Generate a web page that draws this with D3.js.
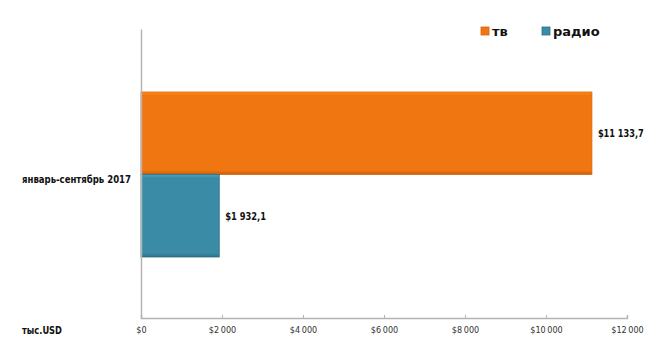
<!DOCTYPE html>
<html>
<head>
<meta charset="utf-8">
<script src="https://cdn.jsdelivr.net/npm/d3@7"></script>
<style>
  body { margin: 0; background: #fff; }
  svg { display: block; }
</style>
</head>
<body>
<div id="chart"></div>
<script>
const CATEGORY = 'январь-сентябрь 2017'
const SERIES = ['тв', 'радио']
const VALUES = [11133.7, 1932.1]
const VALUE_LABELS = ['$11 133,7', '$1 932,1']
const TICKS = [0, 2000, 4000, 6000, 8000, 10000, 12000]
const COLORS = ['#f07612', '#3a8ca6']
const EDGES = ['#d8650c', '#2b6f86']
const UNIT = 'тыс.USD'

const W = 650
const H = 361
const FONT = 'DejaVu Sans Condensed, Liberation Sans Narrow, sans-serif'
const svg = d3.select('#chart').append('svg')
  .attr('width', W)
  .attr('height', H)

const defs = svg.append('defs')
COLORS.forEach((c, i) => {
  const g = defs.append('linearGradient')
    .attr('id', 'grad' + i)
    .attr('x1', 0).attr('y1', 0).attr('x2', 0).attr('y2', 1)
  g.append('stop').attr('offset', '0%').attr('stop-color', d3.color(c).brighter(0.5))
  g.append('stop').attr('offset', '4%').attr('stop-color', c)
  g.append('stop').attr('offset', '95%').attr('stop-color', c)
  g.append('stop').attr('offset', '100%').attr('stop-color', d3.color(c).darker(0.6))
})

const x = d3.scaleLinear().domain([0, 12000]).range([141, 627])
const yBand = d3.scaleBand().domain([CATEGORY]).range([29, 318])
const ySeries = d3.scaleBand().domain(SERIES).range([92, 257]).padding(0)

const fmt = (v) => '$' + d3.format(',')(v).replace(/,/g, '\u2009')

// squeeze bold labels to roughly the narrow widths in the original
function squeeze(sel, len) {
  sel.attr('textLength', len).attr('lengthAdjust', 'spacingAndGlyphs')
}

// bars
svg.selectAll('rect.bar')
  .data(VALUES)
  .join('rect')
  .attr('class', 'bar')
  .attr('x', x(0))
  .attr('y', (d, i) => ySeries(SERIES[i]))
  .attr('width', (d) => x(d) - x(0))
  .attr('height', ySeries.bandwidth())
  .attr('fill', (d, i) => `url(#grad${i})`)
  .attr('stroke', (d, i) => EDGES[i])
  .attr('stroke-width', 0.8)

// value labels
svg.selectAll('text.val')
  .data(VALUES)
  .join('text')
  .attr('class', 'val')
  .attr('x', (d) => x(d) + 6)
  .attr('y', (d, i) => ySeries(SERIES[i]) + ySeries.bandwidth() / 2 + 4)
  .attr('textLength', (d, i) => VALUE_LABELS[i].length * 5.1)
  .attr('lengthAdjust', 'spacingAndGlyphs')
  .style('font-family', FONT)
  .style('font-size', '11px')
  .style('font-weight', 'bold')
  .style('fill', '#111')
  .text((d, i) => VALUE_LABELS[i])

// x axis
const xAxis = svg.append('g')
  .attr('transform', 'translate(0,318)')
  .call(d3.axisBottom(x).tickValues(TICKS).tickSize(-3).tickPadding(9).tickFormat(fmt))
xAxis.select('.domain').attr('stroke', '#b4b4b4').attr('stroke-width', 1.5)
xAxis.selectAll('.tick line').attr('stroke', '#b4b4b4')
xAxis.selectAll('.tick text')
  .style('font-family', FONT)
  .style('font-size', '9px')
  .style('fill', '#333')

// y axis
const yAxis = svg.append('g')
  .attr('transform', `translate(${x(0)},0)`)
  .call(d3.axisLeft(yBand).tickSize(0).tickPadding(10))
yAxis.select('.domain').attr('stroke', '#b4b4b4').attr('stroke-width', 1.5)
yAxis.selectAll('.tick text')
  .attr('dy', '0.9em')
  .style('font-family', FONT)
  .style('font-size', '11px')
  .style('font-weight', 'bold')
  .style('fill', '#111')
  .call(squeeze, 109)

// unit label
svg.append('text')
  .attr('x', 22)
  .attr('y', 334)
  .style('font-family', FONT)
  .style('font-size', '11px')
  .style('font-weight', 'bold')
  .style('fill', '#111')
  .text(UNIT)
  .call(squeeze, 40)

// legend
const legendX = [481, 542]
const legend = svg.selectAll('g.leg')
  .data(SERIES)
  .join('g')
  .attr('class', 'leg')
  .attr('transform', (d, i) => `translate(${legendX[i]},27)`)
legend.append('rect')
  .attr('width', 8).attr('height', 8)
  .attr('fill', (d, i) => `url(#grad${i})`)
  .attr('stroke', (d, i) => EDGES[i])
  .attr('stroke-width', 0.8)
legend.append('text')
  .attr('x', 11)
  .attr('y', 9)
  .style('font-family', 'DejaVu Sans, sans-serif')
  .style('font-size', '13px')
  .style('font-weight', 'bold')
  .style('fill', '#111')
  .text((d) => d)
</script>
</body>
</html>
